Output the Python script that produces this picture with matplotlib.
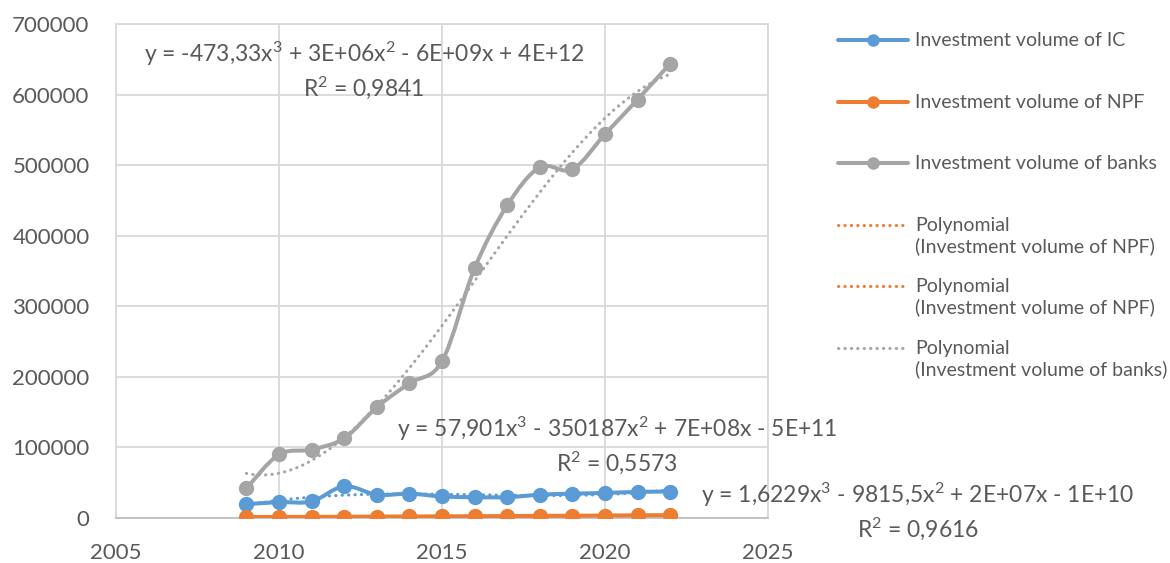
import numpy as np
import matplotlib
matplotlib.use("Agg")
import matplotlib.pyplot as plt
from matplotlib.path import Path
from matplotlib.patches import PathPatch
from matplotlib.lines import Line2D

plt.rcParams['font.family'] = ['Lato', 'DejaVu Sans']
plt.rcParams['mathtext.fontset'] = 'custom'
plt.rcParams['mathtext.rm'] = 'Lato'
plt.rcParams['mathtext.it'] = 'Lato'
plt.rcParams['mathtext.default'] = 'regular'

years = [2009, 2010, 2011, 2012, 2013, 2014, 2015, 2016, 2017, 2018, 2019, 2020, 2021, 2022]
ic = [19500, 22500, 23500, 45000, 33000, 34500, 30500, 29500, 29500, 33000, 34500, 35500, 37000, 37500]
npf = [1400, 1500, 1600, 1800, 2000, 2200, 2300, 2500, 2700, 3000, 3200, 3500, 3800, 4000]
banks = [42000, 90000, 97000, 113000, 157000, 191000, 222000, 354000, 443000, 497000, 494000, 544000, 593000, 644000]

eq_banks = 'y = -473,33x$^{3}$ + 3E+06x$^{2}$ - 6E+09x + 4E+12\nR$^{2}$ = 0,9841'
eq_ic = 'y = 57,901x$^{3}$ - 350187x$^{2}$ + 7E+08x - 5E+11\nR$^{2}$ = 0,5573'
eq_npf = 'y = 1,6229x$^{3}$ - 9815,5x$^{2}$ + 2E+07x - 1E+10\nR$^{2}$ = 0,9616'

legend_labels = ['Investment volume of IC', 'Investment volume of NPF', 'Investment volume of banks',
                 'Polynomial\n(Investment volume of NPF)', 'Polynomial\n(Investment volume of NPF)',
                 'Polynomial\n(Investment volume of banks)']

c_ic = '#5b9bd5'
c_npf = '#ed7d31'
c_bank = '#a5a5a5'
txt = '#595959'
W, H = 1170, 563


def smooth_path(x, y):
  # excel style smoothed line, cubic bezier through every point
  x = np.asarray(x, float)
  y = np.asarray(y, float)
  pts = np.column_stack([x, y])
  n = len(pts)
  verts = [pts[0]]
  codes = [Path.MOVETO]
  for i in range(n-1):
    p0 = pts[i-1] if i > 0 else pts[i]
    p1 = pts[i]
    p2 = pts[i+1]
    p3 = pts[i+2] if i+2 < n else pts[i+1]
    c1 = p1 + (p2-p0)/6.0
    c2 = p2 - (p3-p1)/6.0
    verts += [c1, c2, p2]
    codes += [Path.CURVE4]*3
  return Path(verts, codes)


fig = plt.figure(figsize=(W/100, H/100), dpi=100)
ax = fig.add_axes([116/W, 1-518/H, (768-116)/W, (518-24)/H])

dots = (0, (0.1, 2.0))
xs = np.linspace(years[0], years[-1], 200)
for vals, col in [(ic, c_ic), (npf, c_npf), (banks, c_bank)]:
  ax.add_patch(PathPatch(smooth_path(years, vals), fill=False, ec=col, lw=2.9, zorder=3,
                         joinstyle='round', capstyle='round'))
  ax.plot(years, vals, 'o', color=col, ms=10, zorder=4)
  p = np.polynomial.Polynomial.fit(years, vals, 3)
  ax.plot(xs, p(xs), color=col, lw=2.2, ls=dots, dash_capstyle='round', zorder=5)

ax.set_xlim(2005, 2025)
ax.set_ylim(0, 700000)
ax.set_xticks(range(2005, 2026, 5))
ax.set_yticks(range(0, 700001, 100000))
ax.grid(True, color='#d9d9d9', lw=1.3)
ax.set_axisbelow(True)
for s in ax.spines.values():
  s.set_color('#d9d9d9')
  s.set_linewidth(1.3)
ax.spines['bottom'].set_color('#bfbfbf')
ax.tick_params(length=0, labelsize=16, labelcolor=txt)
ax.tick_params(axis='x', pad=18)
ax.tick_params(axis='y', pad=19)

fig.text(364/W, 1-40/H, eq_banks, ha='center', va='top', fontsize=16.5, color=txt, linespacing=1.3)
fig.text(617/W, 1-415/H, eq_ic, ha='center', va='top', fontsize=16.5, color=txt, linespacing=1.3)
fig.text(918/W, 1-481/H, eq_npf, ha='center', va='top', fontsize=16.5, color=txt, linespacing=1.3)

# legend drawn by hand so 2-line entries keep the handle on the first line
leg_cols = [c_ic, c_npf, c_bank, c_npf, c_npf, c_bank]
for i, lab in enumerate(legend_labels):
  yp = 40 + i*61.6
  yf = 1-yp/H
  if i < 3:
    fig.add_artist(Line2D([838/W, 908/W], [yf, yf], color=leg_cols[i], lw=2.9,
                          solid_capstyle='round', transform=fig.transFigure))
    fig.add_artist(Line2D([873/W], [yf], marker='o', ms=8, color=leg_cols[i],
                          transform=fig.transFigure))
  else:
    fig.add_artist(Line2D([838/W, 908/W], [yf, yf], color=leg_cols[i], lw=2.2, ls=dots,
                          dash_capstyle='round', transform=fig.transFigure))
  fig.text(915/W, 1-(yp-8)/H, lab, ha='left', va='top', fontsize=14, color=txt, linespacing=1.2)

fig.savefig('out.png', dpi=100)
